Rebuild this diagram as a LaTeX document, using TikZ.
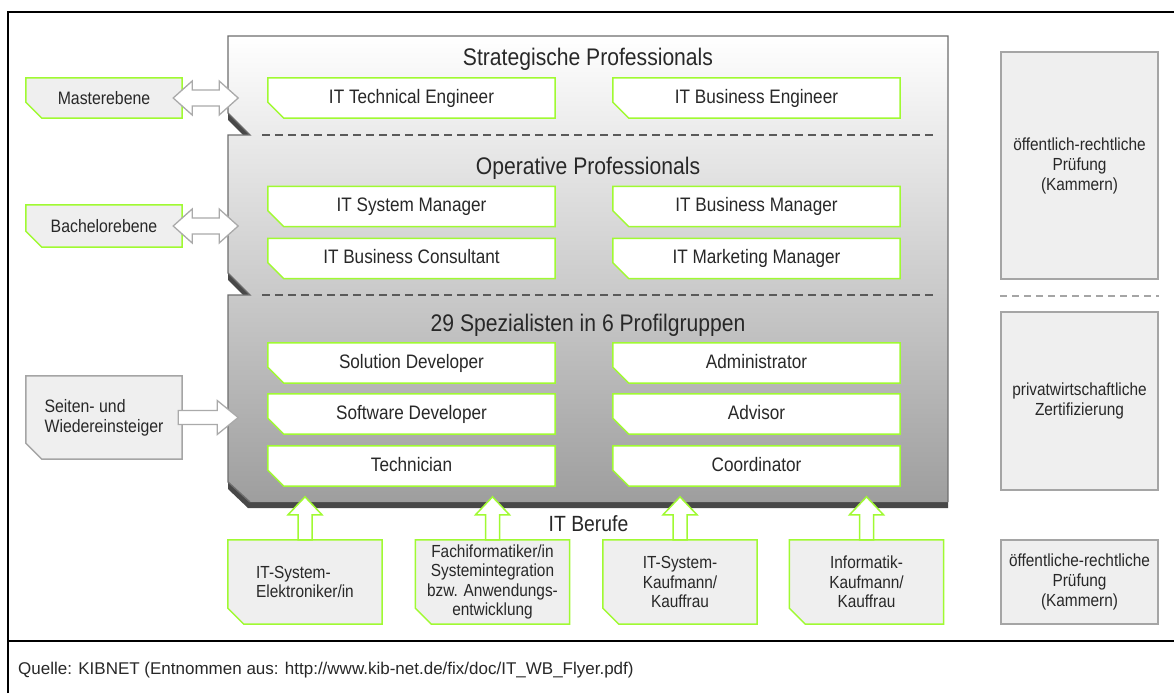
\documentclass[tikz,border=0pt]{standalone}
\usepackage{fontspec}
\setmainfont{Liberation Sans}[FakeStretch=0.88]
\newfontfamily\capfont{Liberation Sans}
\usetikzlibrary{calc}
\definecolor{lgreen}{RGB}{160,250,50}
\definecolor{txt}{RGB}{40,40,40}
\definecolor{boxfill}{RGB}{239,239,239}
\definecolor{edgegray}{RGB}{110,110,110}
\definecolor{shadowgray}{RGB}{72,72,72}
\definecolor{lightedge}{RGB}{165,165,165}
\definecolor{bottomgray}{RGB}{158,158,158}
\definecolor{dashgray}{RGB}{90,90,90}
\definecolor{arrowgray}{RGB}{170,170,170}
\pgfdeclarelayer{back}\pgfdeclarelayer{mid}\pgfsetlayers{back,mid,main}
\newcommand\chbox[3]{%
 \draw[line width=1.5pt, draw=#2, fill=#3] (#1.north west) -- (#1.north east) -- (#1.south east) -- ([xshift=16pt]#1.south west) -- ([yshift=16pt]#1.south west) -- cycle;}
\newcommand\dblarr[2]{%
 \draw[garrow] let \p1=(#1), \p2=(#2) in (\x1,\y1) -- (\x1+19pt,\y1+17pt) -- (\x1+19pt,\y1+8pt) -- (\x2-19pt,\y1+8pt) -- (\x2-19pt,\y1+17pt) -- (\x2,\y1) -- (\x2-19pt,\y1-17pt) -- (\x2-19pt,\y1-8pt) -- (\x1+19pt,\y1-8pt) -- (\x1+19pt,\y1-17pt) -- cycle;}
\newcommand\rarr[2]{%
 \draw[garrow] let \p1=(#1), \p2=(#2) in (\x1,\y1+7pt) -- (\x2-21pt,\y1+7pt) -- (\x2-21pt,\y1+17pt) -- (\x2,\y1) -- (\x2-21pt,\y1-17pt) -- (\x2-21pt,\y1-7pt) -- (\x1,\y1-7pt) -- cycle;}
\newcommand\uparr[2]{%
 \draw[uparrow] let \p1=(#1), \p2=(#2) in (\x1-7pt,\y1) -- (\x1-7pt,\y2-18pt) -- (\x1-17pt,\y2-18pt) -- (\x1,\y2) -- (\x1+17pt,\y2-18pt) -- (\x1+7pt,\y2-18pt) -- (\x1+7pt,\y1) -- cycle;}
\begin{document}
\begin{tikzpicture}[x=1pt,y=-1pt,
 lbl/.style={text=txt, inner sep=0pt},
 inbox/.style={lbl, minimum width=287pt, minimum height=40pt, font=\fontsize{19.5}{22}\selectfont, text height=14pt, text depth=3.5pt},
 sidebox/.style={lbl, minimum width=156pt, font=\fontsize{18}{20}\selectfont},
 botbox/.style={lbl, minimum width=154pt, minimum height=84pt, align=center, font=\fontsize{17.5}{19.5}\selectfont},
 rbox/.style={lbl, draw=lightedge, fill=boxfill, line width=1.5pt, minimum width=157pt, align=center, font=\fontsize{17.5}{20}\selectfont},
 ttl/.style={lbl, anchor=base, font=\fontsize{24}{28}\selectfont},
 sep/.style={draw=dashgray, line width=1.5pt, dash pattern=on 8pt off 5pt},
 garrow/.style={draw=arrowgray, fill=white, line width=1.3pt, line join=miter},
 uparrow/.style={draw=lgreen, fill=white, line width=1.5pt}
]
\useasboundingbox (0,0) rectangle (1174,693);
% main stacked frame
\begin{pgfonlayer}{back}
 \fill[white] (0,0) rectangle (1174,693);
 \fill[shadowgray] (228,482) -- (250,502) -- (948,502) -- (948,508) -- (248,508) -- (228,489) -- cycle;
 \fill[shadowgray] (228,113) -- (250,135) -- (243,135) -- (228,120) -- cycle;
 \fill[shadowgray] (228,273) -- (250,295) -- (243,295) -- (228,280) -- cycle;
 \begin{scope}
  \clip (228,36) -- (948,36) -- (948,502) -- (250,502) -- (228,482) -- (228,295) -- (250,295) -- (228,273) -- (228,135) -- (250,135) -- (228,113) -- cycle;
  \shade[top color=white, bottom color=bottomgray] (228,36) rectangle (948,502);
 \end{scope}
 \draw[edgegray, line width=1.3pt] (250,502) -- (228,482) -- (228,295) -- (250,295) -- (228,273) -- (228,135) -- (250,135) -- (228,113) -- (228,36) -- (948,36) -- (948,502);
 \draw[sep] (262,135) -- (935,135);
 \draw[sep] (262,295) -- (935,295);
\end{pgfonlayer}
% table frame
\draw[line width=2.2pt] (8,693) -- (8,12) -- (1174,12);
\draw[line width=2.2pt] (8,641) -- (1174,641);
% titles
\node[ttl] (t1) at (588,65) {Strategische Professionals};
\node[ttl] (t2) at (588,174) {Operative Professionals};
\node[ttl] (t3) at (588,331) {29 Spezialisten in 6 Profilgruppen};
% inner boxes
\node[inbox] (te) at (411.5,98) {IT Technical Engineer};
\node[inbox] (be) at (756.5,98) {IT Business Engineer};
\node[inbox] (sm) at (411.5,206.5) {IT System Manager};
\node[inbox] (bm) at (756.5,206.5) {IT Business Manager};
\node[inbox] (bc) at (411.5,258.5) {IT Business Consultant};
\node[inbox] (mm) at (756.5,258.5) {IT Marketing Manager};
\node[inbox] (sd) at (411.5,363) {Solution Developer};
\node[inbox] (ad) at (756.5,363) {Administrator};
\node[inbox] (sw) at (411.5,414) {Software Developer};
\node[inbox] (av) at (756.5,414) {Advisor};
\node[inbox] (tc) at (411.5,466) {Technician};
\node[inbox] (co) at (756.5,466) {Coordinator};
% left boxes
\node[sidebox, minimum height=40pt] (ma) at (104,98) {Masterebene};
\node[sidebox, minimum height=42pt] (ba) at (104,226) {Bachelorebene};
\node[sidebox, minimum height=83pt, align=left] (se) at (104,417.5) {Seiten- und\\Wiedereinsteiger};
% bottom boxes
\node[lbl, anchor=base, font=\fontsize{22}{26}\selectfont] (ib) at (588.5,531) {IT Berufe};
\node[botbox, align=left] (b1) at (305,582) {IT-System-\\Elektroniker/in};
\node[botbox] (b2) at (492.5,582) {Fachiformatiker/in\\Systemintegration\\bzw. Anwendungs-\\entwicklung};
\node[botbox] (b3) at (680,582) {IT-System-\\Kaufmann/\\Kauffrau};
\node[botbox] (b4) at (866.5,582) {Informatik-\\Kaufmann/\\Kauffrau};
% right boxes
\node[rbox, minimum height=227pt] (r1) at (1079.5,165.5) {öffentlich-rechtliche\\Prüfung\\(Kammern)};
\node[rbox, minimum height=178pt] (r2) at (1079.5,401) {privatwirtschaftliche\\Zertifizierung};
\node[rbox, minimum height=84pt] (r3) at (1079.5,582) {öffentliche-rechtliche\\Prüfung\\(Kammern)};
\draw[lightedge, line width=1.5pt, dash pattern=on 7pt off 5pt] ($(r1.south west)+(0,16)$) -- ($(r1.south east)+(0,16)$);
% box shapes
\begin{pgfonlayer}{mid}
 \foreach \bx in {te,be,sm,bm,bc,mm,sd,ad,sw,av,tc,co} {\chbox{\bx}{lgreen}{white}}
 \chbox{ma}{lgreen}{boxfill}
 \chbox{ba}{lgreen}{boxfill}
 \chbox{se}{lightedge}{boxfill}
 \foreach \bx in {b1,b2,b3,b4} {\chbox{\bx}{lgreen}{boxfill}}
\end{pgfonlayer}
% connectors
\coordinate (fm) at ($(ma.east)+(56,0)$);
\coordinate (fb) at ($(ba.east)+(56,0)$);
\coordinate (fs) at ($(se.east)+(56,0)$);
\dblarr{$(ma.east)+(-9,0)$}{fm}
\dblarr{$(ba.east)+(-9,0)$}{fb}
\rarr{$(se.east)+(-4,0)$}{fs}
\coordinate (tip1) at ($(b1.north)+(0,-43)$);
\coordinate (tip2) at ($(b2.north)+(0,-43)$);
\coordinate (tip3) at ($(b3.north)+(0,-43)$);
\coordinate (tip4) at ($(b4.north)+(0,-43)$);
\uparr{b1.north}{tip1}
\uparr{b2.north}{tip2}
\uparr{b3.north}{tip3}
\uparr{b4.north}{tip4}
% caption
\node[lbl, anchor=base west, font=\capfont\fontsize{17}{20}\selectfont] (cap) at (18,674) {Quelle: KIBNET (Entnommen aus: http://www.kib-net.de/fix/doc/IT\_WB\_Flyer.pdf)};
\end{tikzpicture}
\end{document}
